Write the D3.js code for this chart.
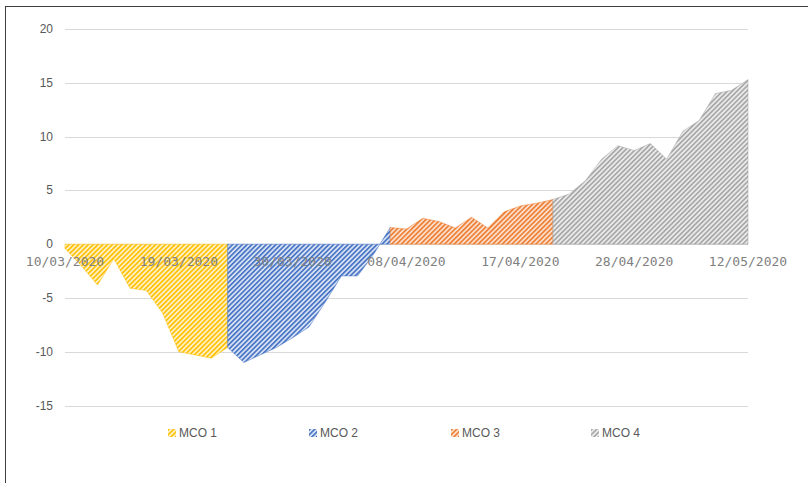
<!DOCTYPE html>
<html>
<head>
<meta charset="utf-8">
<script src="https://cdn.jsdelivr.net/npm/d3@7"></script>
<style>
  body { margin: 0; background: #fff; }
  svg { display: block; }
</style>
</head>
<body>
<div id="chart"></div>
<script>
// trading days shown on the category axis
var dates = ["10/03/2020","11/03/2020","12/03/2020","13/03/2020","16/03/2020","17/03/2020","18/03/2020",
  "19/03/2020","20/03/2020","23/03/2020","24/03/2020","25/03/2020","26/03/2020","27/03/2020",
  "30/03/2020","31/03/2020","01/04/2020","02/04/2020","03/04/2020","06/04/2020","07/04/2020",
  "08/04/2020","09/04/2020","10/04/2020","13/04/2020","14/04/2020","15/04/2020","16/04/2020",
  "17/04/2020","20/04/2020","21/04/2020","22/04/2020","23/04/2020","24/04/2020","27/04/2020",
  "28/04/2020","29/04/2020","30/04/2020","05/05/2020","06/05/2020","08/05/2020","11/05/2020",
  "12/05/2020"];

var seriesNames = ["MCO 1", "MCO 2", "MCO 3", "MCO 4"];
var seriesStart = [0, 10, 20, 30];   // index of first date of each period

var mco1 = [-0.4, -2.0, -3.8, -1.35, -4.1, -4.3, -6.4, -10.0, -10.3, -10.6, -9.6];
var mco2 = [-9.6, -11.0, -10.3, -9.6, -8.7, -7.7, -5.4, -2.95, -2.95, -0.9, 1.55];
var mco3 = [1.55, 1.4, 2.4, 2.1, 1.5, 2.5, 1.5, 3.0, 3.55, 3.8, 4.15];
var mco4 = [4.15, 4.65, 5.9, 7.9, 9.15, 8.7, 9.35, 7.9, 10.5, 11.5, 14.0, 14.3, 15.3];

var yTicks = [-15, -10, -5, 0, 5, 10, 15, 20];

var colors = ["#FFC000", "#4472C4", "#ED7D31", "#A5A5A5"];
var lightColors = ["#FFF0C4", "#D6E0F3", "#FBDDC9", "#EAEAEA"];

function draw() {
    var width = 808, height = 483;
    var svg = d3.select("#chart").append("svg")
        .attr("width", width).attr("height", height);

    // outer chart frame (only left/top visible in the crop)
    svg.append("rect")
        .attr("x", 5.5).attr("y", 6.5)
        .attr("width", 900).attr("height", 600)
        .attr("fill", "none").attr("stroke", "#3f3f3f").attr("stroke-width", 1);

    var x = d3.scalePoint().domain(d3.range(dates.length)).range([65, 748]);
    var y = d3.scaleLinear().domain([-15, 20]).range([405.5, 29]);

    //hatch patterns
    var defs = svg.append("defs");
    colors.forEach(function(c, i) {
        var p = defs.append("pattern")
            .attr("id", "hatch" + i)
            .attr("patternUnits", "userSpaceOnUse")
            .attr("width", 3.4).attr("height", 3.4)
            .attr("patternTransform", "rotate(45)");
        p.append("rect").attr("width", 3.4).attr("height", 3.4).attr("fill", lightColors[i]);
        p.append("rect").attr("width", 1.6).attr("height", 3.4).attr("fill", c);
    });

    // gridlines
    svg.append("g").selectAll("line")
        .data(yTicks)
        .enter().append("line")
        .attr("x1", 65).attr("x2", 748)
        .attr("y1", function(d) { return Math.round(y(d)) + 0.5; })
        .attr("y2", function(d) { return Math.round(y(d)) + 0.5; })
        .attr("stroke", "#d9d9d9").attr("stroke-width", 1);

    // y labels
    svg.append("g").selectAll("text")
        .data(yTicks)
        .enter().append("text")
        .attr("x", 53)
        .attr("y", function(d) { return y(d) + 4; })
        .attr("text-anchor", "end")
        .attr("font-family", "Liberation Sans, Arial, sans-serif")
        .attr("font-size", 12)
        .attr("fill", "#595959")
        .text(function(d) { return d; });

    var allSeries = [mco1, mco2, mco3, mco4];
    var area = d3.area()
        .x(function(d) { return x(d.i); })
        .y0(y(0))
        .y1(function(d) { return y(d.v); });

    allSeries.forEach(function(vals, s) {
        var pts = vals.map(function(v, k) { return { i: seriesStart[s] + k, v: v }; });
        svg.append("path")
            .datum(pts)
            .attr("d", area)
            .attr("fill", "url(#hatch" + s + ")")
            .attr("stroke", colors[s])
            .attr("stroke-opacity", 0.5)
            .attr("stroke-width", 1);
    });

    // category labels, every 7th date
    var labelIdx = d3.range(0, dates.length, 7);
    svg.append("g").selectAll("text")
        .data(labelIdx)
        .enter().append("text")
        .attr("x", function(d) { return x(d); })
        .attr("y", y(0) + 22)
        .attr("text-anchor", "middle")
        .attr("font-family", "DejaVu Sans Mono, monospace")
        .attr("font-size", 13)
        .attr("fill", "#7f7f7f")
        .text(function(d) { return dates[d]; });

    // legend
    var legendX = [168, 309, 451, 591];
    var legend = svg.append("g").selectAll("g")
        .data(seriesNames)
        .enter().append("g")
        .attr("transform", function(d, i) { return "translate(" + legendX[i] + ",429)"; });
    legend.append("rect")
        .attr("width", 8).attr("height", 8)
        .attr("fill", function(d, i) { return "url(#hatch" + i + ")"; });
    legend.append("text")
        .attr("x", 11).attr("y", 8)
        .attr("font-family", "Liberation Sans, Arial, sans-serif")
        .attr("font-size", 12)
        .attr("fill", "#595959")
        .text(function(d) { return d; });
}

draw();
</script>
</body>
</html>
